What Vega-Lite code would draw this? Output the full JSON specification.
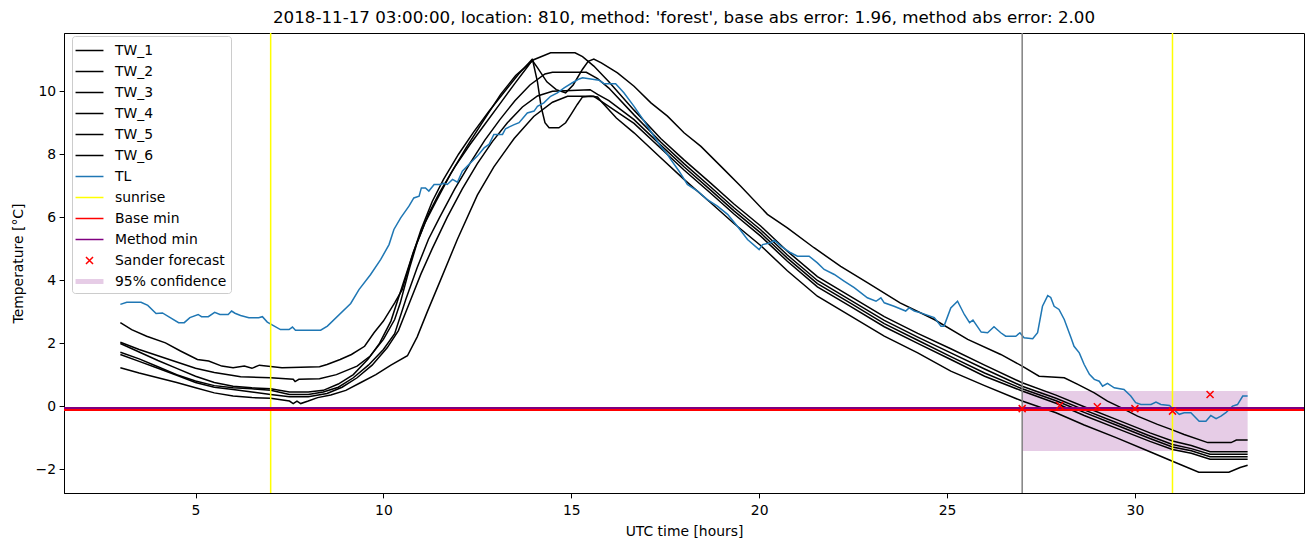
{
  "$schema": "https://vega.github.io/schema/vega-lite/v6.json",
  "width": 1240,
  "height": 460,
  "autosize": {"type": "none"},
  "padding": {"left": 64, "top": 33, "right": 9, "bottom": 54},
  "background": "white",
  "config": {
    "view": {"stroke": "black", "strokeWidth": 1},
    "font": "DejaVu Sans",
    "axis": {
      "grid": false, "domainColor": "black", "tickColor": "black", "tickSize": 4.9, "tickWidth": 1,
      "labelFont": "DejaVu Sans", "labelFontSize": 13.9, "labelColor": "black", "labelPadding": 3.5,
      "titleFont": "DejaVu Sans", "titleFontSize": 13.9, "titleColor": "black", "titleFontWeight": "normal"
    }
  },
  "title": {
    "text": "2018-11-17 03:00:00, location: 810, method: 'forest', base abs error: 1.96, method abs error: 2.00",
    "font": "DejaVu Sans", "fontSize": 16.7, "fontWeight": "normal", "color": "black", "anchor": "middle", "offset": 6
  },
  "datasets": {
    "tw": [
      {"s":"TW_1","h":3,"t":2.65},{"s":"TW_1","h":3.3,"t":2.43},{"s":"TW_1","h":3.7,"t":2.22},{"s":"TW_1","h":4.2,"t":2.01},{"s":"TW_1","h":4.6,"t":1.75},{"s":"TW_1","h":5.05,"t":1.48},{"s":"TW_1","h":5.35,"t":1.43},{"s":"TW_1","h":5.7,"t":1.27},{"s":"TW_1","h":6.0,"t":1.22},{"s":"TW_1","h":6.3,"t":1.27},{"s":"TW_1","h":6.5,"t":1.2},{"s":"TW_1","h":6.7,"t":1.3},{"s":"TW_1","h":7.3,"t":1.22},{"s":"TW_1","h":8.3,"t":1.25},{"s":"TW_1","h":8.5,"t":1.32},{"s":"TW_1","h":8.85,"t":1.48},{"s":"TW_1","h":9.15,"t":1.64},{"s":"TW_1","h":9.5,"t":1.9},{"s":"TW_1","h":9.75,"t":2.33},{"s":"TW_1","h":10.0,"t":2.7},{"s":"TW_1","h":10.3,"t":3.28},{"s":"TW_1","h":10.5,"t":3.7},{"s":"TW_1","h":10.75,"t":4.7},{"s":"TW_1","h":11.0,"t":5.6},{"s":"TW_1","h":11.3,"t":6.5},{"s":"TW_1","h":11.6,"t":7.2},{"s":"TW_1","h":12.0,"t":8.0},{"s":"TW_1","h":12.4,"t":8.7},{"s":"TW_1","h":12.8,"t":9.35},{"s":"TW_1","h":13.2,"t":9.95},{"s":"TW_1","h":13.6,"t":10.55},{"s":"TW_1","h":13.95,"t":11.0},{"s":"TW_1","h":14.1,"t":10.75},{"s":"TW_1","h":14.35,"t":10.3},{"s":"TW_1","h":14.6,"t":10.05},{"s":"TW_1","h":14.85,"t":9.95},{"s":"TW_1","h":15.05,"t":10.2},{"s":"TW_1","h":15.3,"t":10.7},{"s":"TW_1","h":15.45,"t":10.95},{"s":"TW_1","h":15.6,"t":11.02},{"s":"TW_1","h":15.8,"t":10.9},{"s":"TW_1","h":16.23,"t":10.58},{"s":"TW_1","h":16.67,"t":10.16},{"s":"TW_1","h":17.12,"t":9.63},{"s":"TW_1","h":17.56,"t":9.21},{"s":"TW_1","h":18.0,"t":8.68},{"s":"TW_1","h":18.45,"t":8.25},{"s":"TW_1","h":19.07,"t":7.51},{"s":"TW_1","h":19.51,"t":6.98},{"s":"TW_1","h":20.22,"t":6.09},{"s":"TW_1","h":20.75,"t":5.66},{"s":"TW_1","h":21.46,"t":5.03},{"s":"TW_1","h":22.17,"t":4.44},{"s":"TW_1","h":22.88,"t":3.92},{"s":"TW_1","h":23.75,"t":3.28},{"s":"TW_1","h":24.66,"t":2.75},{"s":"TW_1","h":25.55,"t":2.12},{"s":"TW_1","h":26.43,"t":1.64},{"s":"TW_1","h":27.0,"t":1.27},{"s":"TW_1","h":27.45,"t":0.95},{"s":"TW_1","h":28.12,"t":0.9},{"s":"TW_1","h":28.48,"t":0.69},{"s":"TW_1","h":28.92,"t":0.42},{"s":"TW_1","h":29.27,"t":0.16},{"s":"TW_1","h":29.63,"t":-0.05},{"s":"TW_1","h":30.07,"t":-0.32},{"s":"TW_1","h":30.6,"t":-0.58},{"s":"TW_1","h":30.96,"t":-0.74},{"s":"TW_1","h":31.31,"t":-0.9},{"s":"TW_1","h":31.94,"t":-1.16},{"s":"TW_1","h":32.56,"t":-1.16},{"s":"TW_1","h":32.7,"t":-1.08},{"s":"TW_1","h":33.0,"t":-1.08},

      {"s":"TW_2","h":3,"t":2.03},{"s":"TW_2","h":3.5,"t":1.8},{"s":"TW_2","h":4.0,"t":1.6},{"s":"TW_2","h":4.5,"t":1.4},{"s":"TW_2","h":5.0,"t":1.2},{"s":"TW_2","h":5.5,"t":1.07},{"s":"TW_2","h":6.0,"t":0.97},{"s":"TW_2","h":6.2,"t":0.93},{"s":"TW_2","h":7.0,"t":0.9},{"s":"TW_2","h":7.6,"t":0.85},{"s":"TW_2","h":7.65,"t":0.78},{"s":"TW_2","h":7.75,"t":0.85},{"s":"TW_2","h":8.3,"t":0.87},{"s":"TW_2","h":8.75,"t":1.0},{"s":"TW_2","h":9.3,"t":1.27},{"s":"TW_2","h":9.65,"t":1.59},{"s":"TW_2","h":10.0,"t":2.12},{"s":"TW_2","h":10.3,"t":2.75},{"s":"TW_2","h":10.45,"t":3.28},{"s":"TW_2","h":10.7,"t":4.4},{"s":"TW_2","h":10.9,"t":5.2},{"s":"TW_2","h":11.2,"t":6.1},{"s":"TW_2","h":11.5,"t":6.8},{"s":"TW_2","h":11.9,"t":7.6},{"s":"TW_2","h":12.3,"t":8.3},{"s":"TW_2","h":12.7,"t":8.95},{"s":"TW_2","h":13.1,"t":9.6},{"s":"TW_2","h":13.5,"t":10.25},{"s":"TW_2","h":13.85,"t":10.8},{"s":"TW_2","h":13.97,"t":11.0},{"s":"TW_2","h":14.1,"t":10.3},{"s":"TW_2","h":14.2,"t":9.5},{"s":"TW_2","h":14.3,"t":9.0},{"s":"TW_2","h":14.41,"t":8.84},{"s":"TW_2","h":14.67,"t":8.84},{"s":"TW_2","h":14.85,"t":9.0},{"s":"TW_2","h":14.99,"t":9.26},{"s":"TW_2","h":15.16,"t":9.58},{"s":"TW_2","h":15.3,"t":9.82},{"s":"TW_2","h":15.52,"t":9.84},{"s":"TW_2","h":15.7,"t":9.82},{"s":"TW_2","h":15.78,"t":9.7},{"s":"TW_2","h":16.2,"t":9.15},{"s":"TW_2","h":16.67,"t":8.68},{"s":"TW_2","h":17.38,"t":7.89},{"s":"TW_2","h":18.0,"t":7.2},{"s":"TW_2","h":18.71,"t":6.46},{"s":"TW_2","h":19.33,"t":5.8},{"s":"TW_2","h":20.04,"t":5.1},{"s":"TW_2","h":20.75,"t":4.3},{"s":"TW_2","h":21.55,"t":3.49},{"s":"TW_2","h":22.44,"t":2.86},{"s":"TW_2","h":23.33,"t":2.22},{"s":"TW_2","h":24.22,"t":1.69},{"s":"TW_2","h":25.1,"t":1.11},{"s":"TW_2","h":26.0,"t":0.65},{"s":"TW_2","h":27.0,"t":0.16},{"s":"TW_2","h":27.9,"t":-0.21},{"s":"TW_2","h":28.65,"t":-0.6},{"s":"TW_2","h":29.5,"t":-1.0},{"s":"TW_2","h":30.4,"t":-1.45},{"s":"TW_2","h":31.0,"t":-1.75},{"s":"TW_2","h":31.7,"t":-2.1},{"s":"TW_2","h":32.5,"t":-2.1},{"s":"TW_2","h":32.8,"t":-1.95},{"s":"TW_2","h":33.0,"t":-1.88},

      {"s":"TW_3","h":3,"t":1.99},{"s":"TW_3","h":3.5,"t":1.72},{"s":"TW_3","h":4.0,"t":1.45},{"s":"TW_3","h":4.5,"t":1.2},{"s":"TW_3","h":5.0,"t":0.95},{"s":"TW_3","h":5.5,"t":0.75},{"s":"TW_3","h":6.0,"t":0.63},{"s":"TW_3","h":6.5,"t":0.58},{"s":"TW_3","h":7.0,"t":0.55},{"s":"TW_3","h":7.5,"t":0.45},{"s":"TW_3","h":8.0,"t":0.45},{"s":"TW_3","h":8.4,"t":0.5},{"s":"TW_3","h":8.8,"t":0.7},{"s":"TW_3","h":9.2,"t":1.0},{"s":"TW_3","h":9.6,"t":1.5},{"s":"TW_3","h":9.9,"t":2.0},{"s":"TW_3","h":10.2,"t":2.7},{"s":"TW_3","h":10.5,"t":3.8},{"s":"TW_3","h":10.8,"t":4.9},{"s":"TW_3","h":11.1,"t":5.8},{"s":"TW_3","h":11.4,"t":6.5},{"s":"TW_3","h":11.8,"t":7.4},{"s":"TW_3","h":12.2,"t":8.2},{"s":"TW_3","h":12.6,"t":8.95},{"s":"TW_3","h":13.12,"t":9.9},{"s":"TW_3","h":13.52,"t":10.5},{"s":"TW_3","h":14.0,"t":11.0},{"s":"TW_3","h":14.45,"t":11.22},{"s":"TW_3","h":15.1,"t":11.22},{"s":"TW_3","h":15.3,"t":11.1},{"s":"TW_3","h":15.6,"t":10.8},{"s":"TW_3","h":16.0,"t":10.3},{"s":"TW_3","h":16.67,"t":9.4},{"s":"TW_3","h":17.38,"t":8.5},{"s":"TW_3","h":18.0,"t":7.82},{"s":"TW_3","h":18.71,"t":7.08},{"s":"TW_3","h":19.33,"t":6.42},{"s":"TW_3","h":20.04,"t":5.72},{"s":"TW_3","h":20.75,"t":4.92},{"s":"TW_3","h":21.55,"t":4.11},{"s":"TW_3","h":22.44,"t":3.48},{"s":"TW_3","h":23.33,"t":2.84},{"s":"TW_3","h":24.22,"t":2.31},{"s":"TW_3","h":25.1,"t":1.82},{"s":"TW_3","h":26.0,"t":1.3},{"s":"TW_3","h":27.0,"t":0.74},{"s":"TW_3","h":27.9,"t":0.35},{"s":"TW_3","h":28.65,"t":-0.02},{"s":"TW_3","h":29.5,"t":-0.42},{"s":"TW_3","h":30.4,"t":-0.85},{"s":"TW_3","h":31.0,"t":-1.11},{"s":"TW_3","h":31.5,"t":-1.25},{"s":"TW_3","h":32.0,"t":-1.45},{"s":"TW_3","h":32.55,"t":-1.45},{"s":"TW_3","h":33.0,"t":-1.45},

      {"s":"TW_4","h":3,"t":1.71},{"s":"TW_4","h":3.5,"t":1.5},{"s":"TW_4","h":4.0,"t":1.25},{"s":"TW_4","h":4.5,"t":1.0},{"s":"TW_4","h":5.0,"t":0.8},{"s":"TW_4","h":5.5,"t":0.65},{"s":"TW_4","h":6.0,"t":0.58},{"s":"TW_4","h":6.5,"t":0.55},{"s":"TW_4","h":7.0,"t":0.5},{"s":"TW_4","h":7.5,"t":0.37},{"s":"TW_4","h":8.0,"t":0.37},{"s":"TW_4","h":8.4,"t":0.45},{"s":"TW_4","h":8.8,"t":0.6},{"s":"TW_4","h":9.2,"t":0.9},{"s":"TW_4","h":9.6,"t":1.3},{"s":"TW_4","h":10.0,"t":1.8},{"s":"TW_4","h":10.3,"t":2.3},{"s":"TW_4","h":10.6,"t":3.4},{"s":"TW_4","h":10.9,"t":4.4},{"s":"TW_4","h":11.2,"t":5.3},{"s":"TW_4","h":11.5,"t":6.0},{"s":"TW_4","h":11.9,"t":6.9},{"s":"TW_4","h":12.3,"t":7.7},{"s":"TW_4","h":12.7,"t":8.45},{"s":"TW_4","h":13.1,"t":9.1},{"s":"TW_4","h":13.5,"t":9.7},{"s":"TW_4","h":13.9,"t":10.2},{"s":"TW_4","h":14.3,"t":10.55},{"s":"TW_4","h":14.5,"t":10.6},{"s":"TW_4","h":15.4,"t":10.6},{"s":"TW_4","h":15.7,"t":10.4},{"s":"TW_4","h":16.0,"t":10.1},{"s":"TW_4","h":16.67,"t":9.25},{"s":"TW_4","h":17.38,"t":8.39},{"s":"TW_4","h":18.0,"t":7.7},{"s":"TW_4","h":18.71,"t":6.96},{"s":"TW_4","h":19.33,"t":6.3},{"s":"TW_4","h":20.04,"t":5.6},{"s":"TW_4","h":20.75,"t":4.8},{"s":"TW_4","h":21.55,"t":3.99},{"s":"TW_4","h":22.44,"t":3.36},{"s":"TW_4","h":23.33,"t":2.72},{"s":"TW_4","h":24.22,"t":2.19},{"s":"TW_4","h":25.1,"t":1.69},{"s":"TW_4","h":26.0,"t":1.18},{"s":"TW_4","h":27.0,"t":0.63},{"s":"TW_4","h":27.9,"t":0.25},{"s":"TW_4","h":28.65,"t":-0.12},{"s":"TW_4","h":29.5,"t":-0.52},{"s":"TW_4","h":30.4,"t":-0.95},{"s":"TW_4","h":31.0,"t":-1.22},{"s":"TW_4","h":31.5,"t":-1.35},{"s":"TW_4","h":32.0,"t":-1.53},{"s":"TW_4","h":32.55,"t":-1.53},{"s":"TW_4","h":33.0,"t":-1.53},

      {"s":"TW_5","h":3,"t":1.64},{"s":"TW_5","h":3.5,"t":1.42},{"s":"TW_5","h":4.0,"t":1.2},{"s":"TW_5","h":4.5,"t":0.98},{"s":"TW_5","h":5.0,"t":0.75},{"s":"TW_5","h":5.5,"t":0.6},{"s":"TW_5","h":6.0,"t":0.53},{"s":"TW_5","h":6.5,"t":0.45},{"s":"TW_5","h":7.0,"t":0.37},{"s":"TW_5","h":7.5,"t":0.3},{"s":"TW_5","h":8.0,"t":0.3},{"s":"TW_5","h":8.5,"t":0.4},{"s":"TW_5","h":8.9,"t":0.6},{"s":"TW_5","h":9.3,"t":0.9},{"s":"TW_5","h":9.7,"t":1.3},{"s":"TW_5","h":10.1,"t":1.85},{"s":"TW_5","h":10.4,"t":2.4},{"s":"TW_5","h":10.7,"t":3.3},{"s":"TW_5","h":11.0,"t":4.2},{"s":"TW_5","h":11.3,"t":5.0},{"s":"TW_5","h":11.7,"t":6.0},{"s":"TW_5","h":12.1,"t":6.9},{"s":"TW_5","h":12.5,"t":7.7},{"s":"TW_5","h":12.9,"t":8.4},{"s":"TW_5","h":13.3,"t":9.0},{"s":"TW_5","h":13.7,"t":9.5},{"s":"TW_5","h":14.1,"t":9.85},{"s":"TW_5","h":14.5,"t":10.0},{"s":"TW_5","h":15.5,"t":10.05},{"s":"TW_5","h":15.7,"t":9.9},{"s":"TW_5","h":16.0,"t":9.7},{"s":"TW_5","h":16.67,"t":9.1},{"s":"TW_5","h":17.38,"t":8.29},{"s":"TW_5","h":18.0,"t":7.6},{"s":"TW_5","h":18.71,"t":6.86},{"s":"TW_5","h":19.33,"t":6.2},{"s":"TW_5","h":20.04,"t":5.5},{"s":"TW_5","h":20.75,"t":4.7},{"s":"TW_5","h":21.55,"t":3.89},{"s":"TW_5","h":22.44,"t":3.26},{"s":"TW_5","h":23.33,"t":2.62},{"s":"TW_5","h":24.22,"t":2.09},{"s":"TW_5","h":25.1,"t":1.57},{"s":"TW_5","h":26.0,"t":1.05},{"s":"TW_5","h":27.0,"t":0.55},{"s":"TW_5","h":27.9,"t":0.17},{"s":"TW_5","h":28.65,"t":-0.2},{"s":"TW_5","h":29.5,"t":-0.6},{"s":"TW_5","h":30.4,"t":-1.03},{"s":"TW_5","h":31.0,"t":-1.3},{"s":"TW_5","h":31.5,"t":-1.42},{"s":"TW_5","h":32.0,"t":-1.61},{"s":"TW_5","h":32.55,"t":-1.61},{"s":"TW_5","h":33.0,"t":-1.61},

      {"s":"TW_6","h":3,"t":1.22},{"s":"TW_6","h":3.5,"t":1.05},{"s":"TW_6","h":4.0,"t":0.9},{"s":"TW_6","h":4.5,"t":0.75},{"s":"TW_6","h":5.0,"t":0.58},{"s":"TW_6","h":5.5,"t":0.42},{"s":"TW_6","h":6.0,"t":0.32},{"s":"TW_6","h":6.5,"t":0.27},{"s":"TW_6","h":7.0,"t":0.25},{"s":"TW_6","h":7.5,"t":0.16},{"s":"TW_6","h":7.6,"t":0.08},{"s":"TW_6","h":7.7,"t":0.16},{"s":"TW_6","h":7.8,"t":0.08},{"s":"TW_6","h":8.0,"t":0.16},{"s":"TW_6","h":8.25,"t":0.27},{"s":"TW_6","h":8.6,"t":0.35},{"s":"TW_6","h":9.0,"t":0.5},{"s":"TW_6","h":9.4,"t":0.75},{"s":"TW_6","h":9.8,"t":1.0},{"s":"TW_6","h":10.2,"t":1.3},{"s":"TW_6","h":10.64,"t":1.6},{"s":"TW_6","h":10.9,"t":2.2},{"s":"TW_6","h":11.17,"t":3.0},{"s":"TW_6","h":11.52,"t":4.0},{"s":"TW_6","h":11.97,"t":5.3},{"s":"TW_6","h":12.5,"t":6.7},{"s":"TW_6","h":12.94,"t":7.6},{"s":"TW_6","h":13.48,"t":8.5},{"s":"TW_6","h":14.0,"t":9.2},{"s":"TW_6","h":14.5,"t":9.65},{"s":"TW_6","h":14.9,"t":9.84},{"s":"TW_6","h":15.6,"t":9.84},{"s":"TW_6","h":15.9,"t":9.6},{"s":"TW_6","h":16.67,"t":8.98},{"s":"TW_6","h":17.38,"t":8.19},{"s":"TW_6","h":18.0,"t":7.5},{"s":"TW_6","h":18.71,"t":6.76},{"s":"TW_6","h":19.33,"t":6.1},{"s":"TW_6","h":20.04,"t":5.4},{"s":"TW_6","h":20.75,"t":4.6},{"s":"TW_6","h":21.55,"t":3.79},{"s":"TW_6","h":22.44,"t":3.16},{"s":"TW_6","h":23.33,"t":2.52},{"s":"TW_6","h":24.22,"t":1.99},{"s":"TW_6","h":25.1,"t":1.48},{"s":"TW_6","h":26.0,"t":0.95},{"s":"TW_6","h":27.0,"t":0.48},{"s":"TW_6","h":27.9,"t":0.09},{"s":"TW_6","h":28.65,"t":-0.3},{"s":"TW_6","h":29.5,"t":-0.7},{"s":"TW_6","h":30.4,"t":-1.12},{"s":"TW_6","h":31.0,"t":-1.38},{"s":"TW_6","h":31.5,"t":-1.5},{"s":"TW_6","h":32.0,"t":-1.69},{"s":"TW_6","h":32.55,"t":-1.69},{"s":"TW_6","h":33.0,"t":-1.69},

      {"s":"TL","h":3.0,"t":3.23},{"s":"TL","h":3.17,"t":3.3},{"s":"TL","h":3.55,"t":3.3},{"s":"TL","h":3.73,"t":3.2},{"s":"TL","h":3.95,"t":2.94},{"s":"TL","h":4.12,"t":2.96},{"s":"TL","h":4.55,"t":2.65},{"s":"TL","h":4.7,"t":2.65},{"s":"TL","h":4.85,"t":2.81},{"s":"TL","h":5.07,"t":2.91},{"s":"TL","h":5.16,"t":2.84},{"s":"TL","h":5.34,"t":2.84},{"s":"TL","h":5.51,"t":2.98},{"s":"TL","h":5.65,"t":2.91},{"s":"TL","h":5.87,"t":2.91},{"s":"TL","h":5.96,"t":3.02},{"s":"TL","h":6.05,"t":2.95},{"s":"TL","h":6.2,"t":2.88},{"s":"TL","h":6.42,"t":2.81},{"s":"TL","h":6.68,"t":2.81},{"s":"TL","h":6.78,"t":2.84},{"s":"TL","h":6.91,"t":2.67},{"s":"TL","h":7.26,"t":2.43},{"s":"TL","h":7.49,"t":2.43},{"s":"TL","h":7.58,"t":2.51},{"s":"TL","h":7.66,"t":2.41},{"s":"TL","h":8.33,"t":2.41},{"s":"TL","h":8.51,"t":2.54},{"s":"TL","h":9.13,"t":3.26},{"s":"TL","h":9.35,"t":3.7},{"s":"TL","h":9.66,"t":4.18},{"s":"TL","h":9.93,"t":4.66},{"s":"TL","h":10.15,"t":5.13},{"s":"TL","h":10.28,"t":5.61},{"s":"TL","h":10.46,"t":5.98},{"s":"TL","h":10.68,"t":6.35},{"s":"TL","h":10.81,"t":6.61},{"s":"TL","h":10.95,"t":6.67},{"s":"TL","h":11.01,"t":6.93},{"s":"TL","h":11.12,"t":6.93},{"s":"TL","h":11.21,"t":6.83},{"s":"TL","h":11.35,"t":7.04},{"s":"TL","h":11.52,"t":7.04},{"s":"TL","h":11.6,"t":7.08},{"s":"TL","h":11.7,"t":7.04},{"s":"TL","h":11.84,"t":7.2},{"s":"TL","h":11.97,"t":7.11},{"s":"TL","h":12.1,"t":7.46},{"s":"TL","h":12.32,"t":7.73},{"s":"TL","h":12.5,"t":7.94},{"s":"TL","h":12.68,"t":8.2},{"s":"TL","h":12.81,"t":8.31},{"s":"TL","h":12.94,"t":8.63},{"s":"TL","h":13.17,"t":8.63},{"s":"TL","h":13.25,"t":8.81},{"s":"TL","h":13.48,"t":8.94},{"s":"TL","h":13.61,"t":9.0},{"s":"TL","h":13.83,"t":9.31},{"s":"TL","h":14.01,"t":9.37},{"s":"TL","h":14.1,"t":9.52},{"s":"TL","h":14.27,"t":9.63},{"s":"TL","h":14.45,"t":9.84},{"s":"TL","h":14.63,"t":9.95},{"s":"TL","h":14.81,"t":10.11},{"s":"TL","h":15.03,"t":10.27},{"s":"TL","h":15.21,"t":10.39},{"s":"TL","h":15.3,"t":10.43},{"s":"TL","h":15.74,"t":10.35},{"s":"TL","h":15.87,"t":10.24},{"s":"TL","h":16.18,"t":10.24},{"s":"TL","h":16.4,"t":9.95},{"s":"TL","h":16.67,"t":9.52},{"s":"TL","h":16.94,"t":9.05},{"s":"TL","h":17.2,"t":8.57},{"s":"TL","h":17.38,"t":8.25},{"s":"TL","h":17.56,"t":7.99},{"s":"TL","h":17.65,"t":7.83},{"s":"TL","h":17.87,"t":7.46},{"s":"TL","h":18.09,"t":7.04},{"s":"TL","h":18.36,"t":6.83},{"s":"TL","h":18.62,"t":6.56},{"s":"TL","h":18.89,"t":6.35},{"s":"TL","h":19.16,"t":6.09},{"s":"TL","h":19.42,"t":5.71},{"s":"TL","h":19.69,"t":5.29},{"s":"TL","h":20.0,"t":4.97},{"s":"TL","h":20.09,"t":5.13},{"s":"TL","h":20.31,"t":5.19},{"s":"TL","h":20.4,"t":5.27},{"s":"TL","h":20.58,"t":5.08},{"s":"TL","h":20.84,"t":4.87},{"s":"TL","h":21.02,"t":4.76},{"s":"TL","h":21.33,"t":4.76},{"s":"TL","h":21.55,"t":4.55},{"s":"TL","h":21.73,"t":4.34},{"s":"TL","h":22.0,"t":4.18},{"s":"TL","h":22.26,"t":3.97},{"s":"TL","h":22.53,"t":3.76},{"s":"TL","h":22.88,"t":3.44},{"s":"TL","h":23.11,"t":3.33},{"s":"TL","h":23.24,"t":3.44},{"s":"TL","h":23.33,"t":3.28},{"s":"TL","h":23.59,"t":3.17},{"s":"TL","h":23.9,"t":3.02},{"s":"TL","h":23.99,"t":3.12},{"s":"TL","h":24.13,"t":3.02},{"s":"TL","h":24.3,"t":2.96},{"s":"TL","h":24.66,"t":2.81},{"s":"TL","h":24.84,"t":2.54},{"s":"TL","h":24.92,"t":2.54},{"s":"TL","h":25.1,"t":3.12},{"s":"TL","h":25.28,"t":3.33},{"s":"TL","h":25.46,"t":2.91},{"s":"TL","h":25.6,"t":2.65},{"s":"TL","h":25.69,"t":2.73},{"s":"TL","h":25.91,"t":2.35},{"s":"TL","h":26.08,"t":2.33},{"s":"TL","h":26.25,"t":2.52},{"s":"TL","h":26.43,"t":2.33},{"s":"TL","h":26.56,"t":2.22},{"s":"TL","h":26.83,"t":2.22},{"s":"TL","h":26.94,"t":2.33},{"s":"TL","h":27.05,"t":2.17},{"s":"TL","h":27.28,"t":2.14},{"s":"TL","h":27.41,"t":2.33},{"s":"TL","h":27.54,"t":3.17},{"s":"TL","h":27.68,"t":3.51},{"s":"TL","h":27.76,"t":3.45},{"s":"TL","h":27.85,"t":3.17},{"s":"TL","h":27.98,"t":3.07},{"s":"TL","h":28.12,"t":2.75},{"s":"TL","h":28.3,"t":2.17},{"s":"TL","h":28.38,"t":1.9},{"s":"TL","h":28.52,"t":1.69},{"s":"TL","h":28.65,"t":1.32},{"s":"TL","h":28.79,"t":1.01},{"s":"TL","h":28.92,"t":0.85},{"s":"TL","h":29.05,"t":0.79},{"s":"TL","h":29.14,"t":0.63},{"s":"TL","h":29.27,"t":0.72},{"s":"TL","h":29.45,"t":0.58},{"s":"TL","h":29.71,"t":0.53},{"s":"TL","h":29.89,"t":0.32},{"s":"TL","h":30.02,"t":0.11},{"s":"TL","h":30.16,"t":0.05},{"s":"TL","h":30.43,"t":0.05},{"s":"TL","h":30.56,"t":0.13},{"s":"TL","h":30.69,"t":0.05},{"s":"TL","h":30.92,"t":0.02},{"s":"TL","h":31.18,"t":-0.26},{"s":"TL","h":31.31,"t":-0.21},{"s":"TL","h":31.49,"t":-0.21},{"s":"TL","h":31.71,"t":-0.48},{"s":"TL","h":31.89,"t":-0.48},{"s":"TL","h":32.02,"t":-0.3},{"s":"TL","h":32.16,"t":-0.4},{"s":"TL","h":32.29,"t":-0.32},{"s":"TL","h":32.42,"t":-0.21},{"s":"TL","h":32.6,"t":0.0},{"s":"TL","h":32.73,"t":0.05},{"s":"TL","h":32.87,"t":0.32},{"s":"TL","h":33.0,"t":0.32}
    ],
    "legend": [
      {"s":"TW_1"},{"s":"TW_2"},{"s":"TW_3"},{"s":"TW_4"},{"s":"TW_5"},{"s":"TW_6"},{"s":"TL"},{"s":"sunrise"},{"s":"Base min"},{"s":"Method min"},{"s":"Sander forecast"},{"s":"95% confidence"}
    ]
  },
  "layer": [
    {
      "data": {"values": [{"h1": 27, "h2": 33, "lo": -1.43, "hi": 0.48}]},
      "mark": {"type": "rect", "color": "#800080", "opacity": 0.2},
      "encoding": {
        "x": {"field": "h1", "type": "quantitative", "scale": {"domain": [1.5, 34.5], "nice": false, "zero": false},
              "axis": {"values": [5, 10, 15, 20, 25, 30], "title": "UTC time [hours]", "titlePadding": 7, "labelPadding": 6}},
        "x2": {"field": "h2"},
        "y": {"field": "lo", "type": "quantitative", "scale": {"domain": [-2.76, 11.85], "nice": false, "zero": false},
              "axis": {"values": [-2, 0, 2, 4, 6, 8, 10], "title": "Temperature [°C]", "titlePadding": 10}},
        "y2": {"field": "hi"}
      }
    },
    {
      "data": {"name": "tw"},
      "mark": {"type": "line", "strokeWidth": 1.5, "interpolate": "linear"},
      "encoding": {
        "x": {"field": "h", "type": "quantitative"},
        "y": {"field": "t", "type": "quantitative"},
        "detail": {"field": "s"},
        "color": {"field": "s", "type": "nominal", "legend": null,
                  "scale": {"domain": ["TW_1","TW_2","TW_3","TW_4","TW_5","TW_6","TL"],
                            "range": ["black","black","black","black","black","black","#1f77b4"]}}
      }
    },
    {
      "data": {"values": [{"h": 7}, {"h": 31}]},
      "mark": {"type": "rule", "color": "yellow", "strokeWidth": 1.5},
      "encoding": {"x": {"field": "h", "type": "quantitative"}}
    },
    {
      "data": {"values": [{"h": 27}]},
      "mark": {"type": "rule", "color": "gray", "strokeWidth": 1.5},
      "encoding": {"x": {"field": "h", "type": "quantitative"}}
    },
    {
      "data": {"values": [{"t": -0.127}]},
      "mark": {"type": "rule", "color": "red", "strokeWidth": 2},
      "encoding": {"y": {"field": "t", "type": "quantitative"}}
    },
    {
      "data": {"values": [{"t": -0.063}]},
      "mark": {"type": "rule", "color": "purple", "strokeWidth": 2},
      "encoding": {"y": {"field": "t", "type": "quantitative"}}
    },
    {
      "data": {"values": [{"h": 27, "t": -0.08}, {"h": 28, "t": 0.02}, {"h": 29, "t": -0.02}, {"h": 30, "t": -0.08}, {"h": 31, "t": -0.16}, {"h": 32, "t": 0.37}]},
      "mark": {"type": "point", "shape": "M-1,-1L1,1M-1,1L1,-1", "size": 49, "filled": false, "stroke": "red", "strokeWidth": 1.5, "opacity": 1},
      "encoding": {"x": {"field": "h", "type": "quantitative"}, "y": {"field": "t", "type": "quantitative"}}
    },
    {
      "data": {"name": "legend"},
      "mark": {"type": "point", "opacity": 0, "size": 361, "strokeWidth": 1.5},
      "encoding": {
        "stroke": {"field": "s", "type": "nominal",
          "scale": {"domain": ["TW_1","TW_2","TW_3","TW_4","TW_5","TW_6","TL","sunrise","Base min","Method min","Sander forecast","95% confidence"],
                    "range": ["black","black","black","black","black","black","#1f77b4","yellow","red","purple","red","transparent"]},
          "legend": {"title": null, "orient": "none", "legendX": 8, "legendY": 3, "direction": "vertical", "padding": 4, "rowPadding": 3, "symbolOffset": 3, "labelOffset": 15, "labelFont": "DejaVu Sans", "labelFontSize": 13.9, "labelColor": "black", "labelLimit": 0, "symbolSize": 361, "symbolStrokeWidth": 1.5, "symbolOpacity": 1, "fillColor": "rgba(255,255,255,0.8)", "strokeColor": "#cccccc", "cornerRadius": 3}},
        "fill": {"field": "s", "type": "nominal",
          "scale": {"domain": ["TW_1","TW_2","TW_3","TW_4","TW_5","TW_6","TL","sunrise","Base min","Method min","Sander forecast","95% confidence"],
                    "range": ["transparent","transparent","transparent","transparent","transparent","transparent","transparent","transparent","transparent","transparent","transparent","#e6cce6"]},
          "legend": {"title": null, "orient": "none", "legendX": 8, "legendY": 3, "direction": "vertical", "padding": 4, "rowPadding": 3, "symbolOffset": 3, "labelOffset": 15, "labelFont": "DejaVu Sans", "labelFontSize": 13.9, "labelColor": "black", "labelLimit": 0, "symbolSize": 361, "symbolStrokeWidth": 1.5, "symbolOpacity": 1, "fillColor": "rgba(255,255,255,0.8)", "strokeColor": "#cccccc", "cornerRadius": 3}},
        "shape": {"field": "s", "type": "nominal",
          "scale": {"domain": ["TW_1","TW_2","TW_3","TW_4","TW_5","TW_6","TL","sunrise","Base min","Method min","Sander forecast","95% confidence"],
                    "range": ["M-1.47,0H1.47","M-1.47,0H1.47","M-1.47,0H1.47","M-1.47,0H1.47","M-1.47,0H1.47","M-1.47,0H1.47","M-1.47,0H1.47","M-1.47,0H1.47","M-1.47,0H1.47","M-1.47,0H1.47","M-0.37,-0.37L0.37,0.37M-0.37,0.37L0.37,-0.37","M-1.47,-0.26H1.47V0.26H-1.47Z"]},
          "legend": {"title": null, "orient": "none", "legendX": 8, "legendY": 3, "direction": "vertical", "padding": 4, "rowPadding": 3, "symbolOffset": 3, "labelOffset": 15, "labelFont": "DejaVu Sans", "labelFontSize": 13.9, "labelColor": "black", "labelLimit": 0, "symbolSize": 361, "symbolStrokeWidth": 1.5, "symbolOpacity": 1, "fillColor": "rgba(255,255,255,0.8)", "strokeColor": "#cccccc", "cornerRadius": 3}}
      }
    }
  ]
}
